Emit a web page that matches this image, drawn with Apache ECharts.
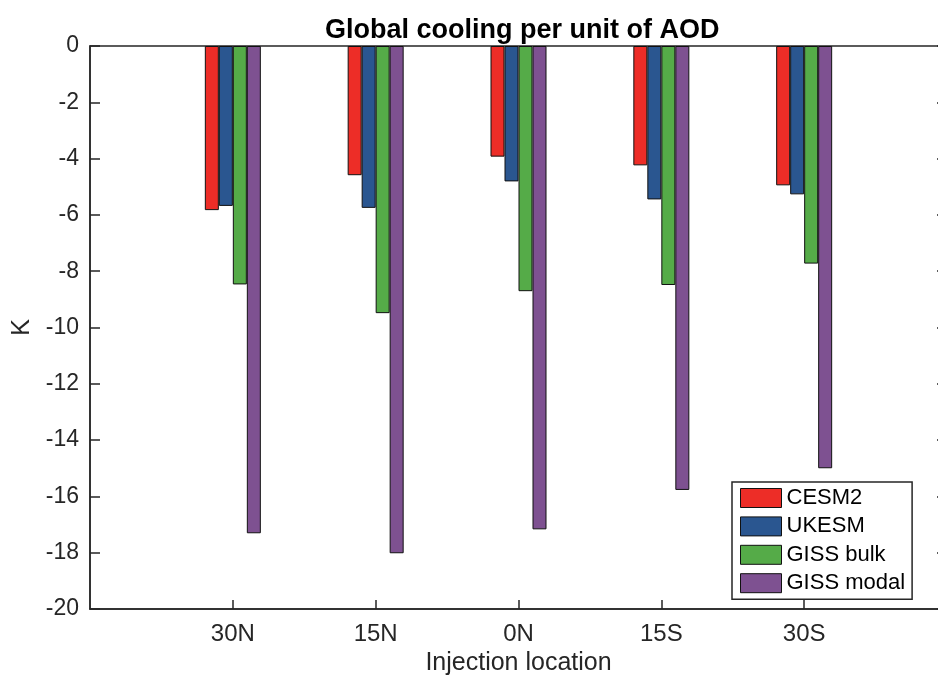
<!DOCTYPE html>
<html>
<head>
<meta charset="utf-8">
<script src="https://cdn.jsdelivr.net/npm/echarts@6/dist/echarts.min.js"></script>
<style>
  html, body { margin: 0; padding: 0; background: #fff; overflow: hidden; }
  /* the matlab box runs past the right edge of the picture, so the chart is a bit wider than the window */
  #chart { width: 952px; height: 682px; }
</style>
</head>
<body>
<div id="chart"></div>
<script>
// categories (blank ones pad the axis ends like matlab's xlim [0 6])
var locations = ['', '30N', '15N', '0N', '15S', '30S', ''];
var yTicks = [0, -2, -4, -6, -8, -10, -12, -14, -16, -18, -20];

// cooling per unit AOD, K
var cesm2 = [null, -5.83, -4.59, -3.93, -4.24, -4.95, null];
var ukesm = [null, -5.68, -5.75, -4.81, -5.45, -5.27, null];
var gissBulk = [null, -8.47, -9.49, -8.71, -8.49, -7.73, null];
var gissModal = [null, -17.31, -18.02, -17.17, -15.77, -15.0, null];

var seriesNames = ['CESM2', 'UKESM', 'GISS bulk', 'GISS modal'];
var seriesColors = ['#ED2D27', '#2A5690', '#55AB48', '#7E5191'];
var allData = [cesm2, ukesm, gissBulk, gissModal];

var txt = '#262626';
var font = 'Liberation Sans, Arial, Helvetica, sans-serif';

var myChart = echarts.init(document.getElementById('chart'));

var series = [];
for (var i = 0; i < allData.length; i++) {
  series.push({
    name: seriesNames[i],
    type: 'bar',
    data: allData[i],
    barWidth: 14,
    barGap: '0%',
    itemStyle: { color: seriesColors[i], borderColor: '#111', borderWidth: 1 },
    emphasis: { disabled: true }
  });
}

var tickStyle = { color: txt, width: 1.5 };

var option = {
  animation: false,
  backgroundColor: '#fff',
  title: {
    text: 'Global cooling per unit of AOD',
    left: 320,
    top: 12,
    textStyle: { fontFamily: font, fontSize: 27, fontWeight: 'bold', color: '#000' }
  },
  legend: {
    orient: 'vertical',
    left: 732,
    top: 482,
    padding: [5, 7, 5, 8],
    itemWidth: 41,
    itemHeight: 19,
    itemGap: 6.4,
    icon: 'rect',
    backgroundColor: '#fff',
    borderColor: txt,
    borderWidth: 1.5,
    itemStyle: { borderColor: '#111', borderWidth: 1 },
    textStyle: { fontFamily: font, fontSize: 22, lineHeight: 21, color: '#000' },
    data: seriesNames
  },
  grid: {
    left: 90,
    right: 5,
    top: 46,
    bottom: 73,
    show: true,
    borderColor: txt,
    borderWidth: 1.5
  },
  xAxis: {
    type: 'category',
    data: locations,
    boundaryGap: false,
    name: 'Injection location',
    nameLocation: 'middle',
    nameGap: 42,
    nameTextStyle: { fontFamily: font, fontSize: 25, color: txt },
    axisLine: { onZero: false, lineStyle: tickStyle },
    axisTick: {
      inside: true,
      length: 9,
      interval: function (idx) { return idx > 0 && idx < locations.length - 1; },
      lineStyle: tickStyle
    },
    axisLabel: { interval: 0, margin: 13, fontFamily: font, fontSize: 24, color: txt },
    splitLine: { show: false }
  },
  yAxis: [{
    type: 'value',
    min: -20,
    max: 0,
    interval: 2,
    name: 'K',
    nameLocation: 'middle',
    nameGap: 55,
    nameTextStyle: { fontFamily: font, fontSize: 25, color: txt },
    axisLine: { show: true, onZero: false, lineStyle: tickStyle },
    axisTick: { show: true, inside: true, length: 10, lineStyle: tickStyle },
    axisLabel: { margin: 11, fontFamily: font, fontSize: 23, color: txt },
    splitLine: { show: false }
  }, {
    type: 'value',
    position: 'right',
    min: -20,
    max: 0,
    interval: 2,
    axisLine: { show: true, onZero: false, lineStyle: tickStyle },
    axisTick: { show: true, inside: true, length: 10, lineStyle: tickStyle },
    axisLabel: { show: false },
    splitLine: { show: false }
  }],
  series: series
};

myChart.setOption(option);
</script>
</body>
</html>
